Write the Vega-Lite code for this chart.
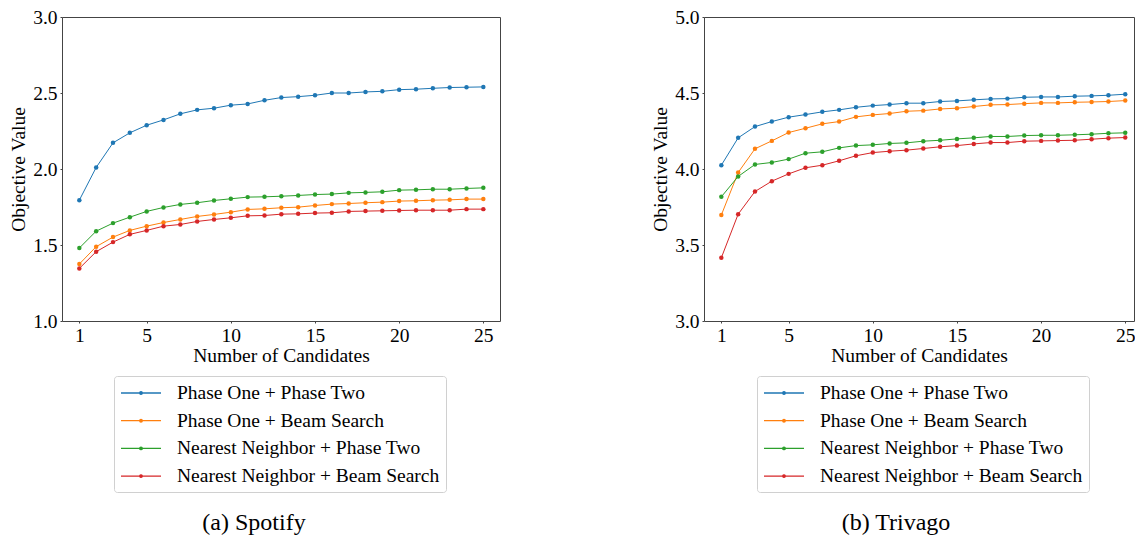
{
  "$schema": "https://vega.github.io/schema/vega-lite/v6.json",
  "padding": {"left": 8, "top": 6, "right": 0, "bottom": 0},
  "background": "white",
  "spacing": 149,
  "datasets": {
    "spotify": [
      {"n":1,"method":"Phase One + Phase Two","value":1.795},{"n":2,"method":"Phase One + Phase Two","value":2.010},{"n":3,"method":"Phase One + Phase Two","value":2.172},{"n":4,"method":"Phase One + Phase Two","value":2.238},{"n":5,"method":"Phase One + Phase Two","value":2.288},{"n":6,"method":"Phase One + Phase Two","value":2.323},{"n":7,"method":"Phase One + Phase Two","value":2.363},{"n":8,"method":"Phase One + Phase Two","value":2.389},{"n":9,"method":"Phase One + Phase Two","value":2.400},{"n":10,"method":"Phase One + Phase Two","value":2.420},{"n":11,"method":"Phase One + Phase Two","value":2.428},{"n":12,"method":"Phase One + Phase Two","value":2.452},{"n":13,"method":"Phase One + Phase Two","value":2.470},{"n":14,"method":"Phase One + Phase Two","value":2.476},{"n":15,"method":"Phase One + Phase Two","value":2.485},{"n":16,"method":"Phase One + Phase Two","value":2.500},{"n":17,"method":"Phase One + Phase Two","value":2.500},{"n":18,"method":"Phase One + Phase Two","value":2.507},{"n":19,"method":"Phase One + Phase Two","value":2.511},{"n":20,"method":"Phase One + Phase Two","value":2.522},{"n":21,"method":"Phase One + Phase Two","value":2.525},{"n":22,"method":"Phase One + Phase Two","value":2.531},{"n":23,"method":"Phase One + Phase Two","value":2.536},{"n":24,"method":"Phase One + Phase Two","value":2.538},{"n":25,"method":"Phase One + Phase Two","value":2.540},
      {"n":1,"method":"Phase One + Beam Search","value":1.375},{"n":2,"method":"Phase One + Beam Search","value":1.489},{"n":3,"method":"Phase One + Beam Search","value":1.552},{"n":4,"method":"Phase One + Beam Search","value":1.596},{"n":5,"method":"Phase One + Beam Search","value":1.624},{"n":6,"method":"Phase One + Beam Search","value":1.648},{"n":7,"method":"Phase One + Beam Search","value":1.668},{"n":8,"method":"Phase One + Beam Search","value":1.688},{"n":9,"method":"Phase One + Beam Search","value":1.701},{"n":10,"method":"Phase One + Beam Search","value":1.716},{"n":11,"method":"Phase One + Beam Search","value":1.734},{"n":12,"method":"Phase One + Beam Search","value":1.738},{"n":13,"method":"Phase One + Beam Search","value":1.745},{"n":14,"method":"Phase One + Beam Search","value":1.749},{"n":15,"method":"Phase One + Beam Search","value":1.760},{"n":16,"method":"Phase One + Beam Search","value":1.769},{"n":17,"method":"Phase One + Beam Search","value":1.773},{"n":18,"method":"Phase One + Beam Search","value":1.778},{"n":19,"method":"Phase One + Beam Search","value":1.782},{"n":20,"method":"Phase One + Beam Search","value":1.789},{"n":21,"method":"Phase One + Beam Search","value":1.791},{"n":22,"method":"Phase One + Beam Search","value":1.795},{"n":23,"method":"Phase One + Beam Search","value":1.797},{"n":24,"method":"Phase One + Beam Search","value":1.802},{"n":25,"method":"Phase One + Beam Search","value":1.802},
      {"n":1,"method":"Nearest Neighbor + Phase Two","value":1.480},{"n":2,"method":"Nearest Neighbor + Phase Two","value":1.591},{"n":3,"method":"Nearest Neighbor + Phase Two","value":1.644},{"n":4,"method":"Nearest Neighbor + Phase Two","value":1.683},{"n":5,"method":"Nearest Neighbor + Phase Two","value":1.721},{"n":6,"method":"Nearest Neighbor + Phase Two","value":1.747},{"n":7,"method":"Nearest Neighbor + Phase Two","value":1.767},{"n":8,"method":"Nearest Neighbor + Phase Two","value":1.778},{"n":9,"method":"Nearest Neighbor + Phase Two","value":1.793},{"n":10,"method":"Nearest Neighbor + Phase Two","value":1.804},{"n":11,"method":"Nearest Neighbor + Phase Two","value":1.815},{"n":12,"method":"Nearest Neighbor + Phase Two","value":1.817},{"n":13,"method":"Nearest Neighbor + Phase Two","value":1.821},{"n":14,"method":"Nearest Neighbor + Phase Two","value":1.826},{"n":15,"method":"Nearest Neighbor + Phase Two","value":1.832},{"n":16,"method":"Nearest Neighbor + Phase Two","value":1.835},{"n":17,"method":"Nearest Neighbor + Phase Two","value":1.843},{"n":18,"method":"Nearest Neighbor + Phase Two","value":1.846},{"n":19,"method":"Nearest Neighbor + Phase Two","value":1.850},{"n":20,"method":"Nearest Neighbor + Phase Two","value":1.861},{"n":21,"method":"Nearest Neighbor + Phase Two","value":1.863},{"n":22,"method":"Nearest Neighbor + Phase Two","value":1.867},{"n":23,"method":"Nearest Neighbor + Phase Two","value":1.867},{"n":24,"method":"Nearest Neighbor + Phase Two","value":1.872},{"n":25,"method":"Nearest Neighbor + Phase Two","value":1.876},
      {"n":1,"method":"Nearest Neighbor + Beam Search","value":1.346},{"n":2,"method":"Nearest Neighbor + Beam Search","value":1.456},{"n":3,"method":"Nearest Neighbor + Beam Search","value":1.519},{"n":4,"method":"Nearest Neighbor + Beam Search","value":1.570},{"n":5,"method":"Nearest Neighbor + Beam Search","value":1.596},{"n":6,"method":"Nearest Neighbor + Beam Search","value":1.624},{"n":7,"method":"Nearest Neighbor + Beam Search","value":1.635},{"n":8,"method":"Nearest Neighbor + Beam Search","value":1.655},{"n":9,"method":"Nearest Neighbor + Beam Search","value":1.668},{"n":10,"method":"Nearest Neighbor + Beam Search","value":1.679},{"n":11,"method":"Nearest Neighbor + Beam Search","value":1.692},{"n":12,"method":"Nearest Neighbor + Beam Search","value":1.694},{"n":13,"method":"Nearest Neighbor + Beam Search","value":1.703},{"n":14,"method":"Nearest Neighbor + Beam Search","value":1.705},{"n":15,"method":"Nearest Neighbor + Beam Search","value":1.710},{"n":16,"method":"Nearest Neighbor + Beam Search","value":1.712},{"n":17,"method":"Nearest Neighbor + Beam Search","value":1.721},{"n":18,"method":"Nearest Neighbor + Beam Search","value":1.723},{"n":19,"method":"Nearest Neighbor + Beam Search","value":1.725},{"n":20,"method":"Nearest Neighbor + Beam Search","value":1.727},{"n":21,"method":"Nearest Neighbor + Beam Search","value":1.729},{"n":22,"method":"Nearest Neighbor + Beam Search","value":1.729},{"n":23,"method":"Nearest Neighbor + Beam Search","value":1.729},{"n":24,"method":"Nearest Neighbor + Beam Search","value":1.736},{"n":25,"method":"Nearest Neighbor + Beam Search","value":1.736}
    ],
    "trivago": [
      {"n":1,"method":"Phase One + Phase Two","value":4.025},{"n":2,"method":"Phase One + Phase Two","value":4.205},{"n":3,"method":"Phase One + Phase Two","value":4.279},{"n":4,"method":"Phase One + Phase Two","value":4.312},{"n":5,"method":"Phase One + Phase Two","value":4.341},{"n":6,"method":"Phase One + Phase Two","value":4.358},{"n":7,"method":"Phase One + Phase Two","value":4.376},{"n":8,"method":"Phase One + Phase Two","value":4.389},{"n":9,"method":"Phase One + Phase Two","value":4.406},{"n":10,"method":"Phase One + Phase Two","value":4.417},{"n":11,"method":"Phase One + Phase Two","value":4.424},{"n":12,"method":"Phase One + Phase Two","value":4.433},{"n":13,"method":"Phase One + Phase Two","value":4.433},{"n":14,"method":"Phase One + Phase Two","value":4.444},{"n":15,"method":"Phase One + Phase Two","value":4.448},{"n":16,"method":"Phase One + Phase Two","value":4.455},{"n":17,"method":"Phase One + Phase Two","value":4.461},{"n":18,"method":"Phase One + Phase Two","value":4.463},{"n":19,"method":"Phase One + Phase Two","value":4.472},{"n":20,"method":"Phase One + Phase Two","value":4.474},{"n":21,"method":"Phase One + Phase Two","value":4.474},{"n":22,"method":"Phase One + Phase Two","value":4.479},{"n":23,"method":"Phase One + Phase Two","value":4.481},{"n":24,"method":"Phase One + Phase Two","value":4.485},{"n":25,"method":"Phase One + Phase Two","value":4.492},
      {"n":1,"method":"Phase One + Beam Search","value":3.697},{"n":2,"method":"Phase One + Beam Search","value":3.977},{"n":3,"method":"Phase One + Beam Search","value":4.133},{"n":4,"method":"Phase One + Beam Search","value":4.185},{"n":5,"method":"Phase One + Beam Search","value":4.240},{"n":6,"method":"Phase One + Beam Search","value":4.268},{"n":7,"method":"Phase One + Beam Search","value":4.297},{"n":8,"method":"Phase One + Beam Search","value":4.312},{"n":9,"method":"Phase One + Beam Search","value":4.343},{"n":10,"method":"Phase One + Beam Search","value":4.356},{"n":11,"method":"Phase One + Beam Search","value":4.365},{"n":12,"method":"Phase One + Beam Search","value":4.380},{"n":13,"method":"Phase One + Beam Search","value":4.384},{"n":14,"method":"Phase One + Beam Search","value":4.395},{"n":15,"method":"Phase One + Beam Search","value":4.400},{"n":16,"method":"Phase One + Beam Search","value":4.411},{"n":17,"method":"Phase One + Beam Search","value":4.422},{"n":18,"method":"Phase One + Beam Search","value":4.424},{"n":19,"method":"Phase One + Beam Search","value":4.430},{"n":20,"method":"Phase One + Beam Search","value":4.435},{"n":21,"method":"Phase One + Beam Search","value":4.435},{"n":22,"method":"Phase One + Beam Search","value":4.439},{"n":23,"method":"Phase One + Beam Search","value":4.441},{"n":24,"method":"Phase One + Beam Search","value":4.444},{"n":25,"method":"Phase One + Beam Search","value":4.450},
      {"n":1,"method":"Nearest Neighbor + Phase Two","value":3.817},{"n":2,"method":"Nearest Neighbor + Phase Two","value":3.951},{"n":3,"method":"Nearest Neighbor + Phase Two","value":4.030},{"n":4,"method":"Nearest Neighbor + Phase Two","value":4.043},{"n":5,"method":"Nearest Neighbor + Phase Two","value":4.065},{"n":6,"method":"Nearest Neighbor + Phase Two","value":4.104},{"n":7,"method":"Nearest Neighbor + Phase Two","value":4.113},{"n":8,"method":"Nearest Neighbor + Phase Two","value":4.139},{"n":9,"method":"Nearest Neighbor + Phase Two","value":4.154},{"n":10,"method":"Nearest Neighbor + Phase Two","value":4.159},{"n":11,"method":"Nearest Neighbor + Phase Two","value":4.168},{"n":12,"method":"Nearest Neighbor + Phase Two","value":4.172},{"n":13,"method":"Nearest Neighbor + Phase Two","value":4.183},{"n":14,"method":"Nearest Neighbor + Phase Two","value":4.189},{"n":15,"method":"Nearest Neighbor + Phase Two","value":4.198},{"n":16,"method":"Nearest Neighbor + Phase Two","value":4.205},{"n":17,"method":"Nearest Neighbor + Phase Two","value":4.214},{"n":18,"method":"Nearest Neighbor + Phase Two","value":4.214},{"n":19,"method":"Nearest Neighbor + Phase Two","value":4.220},{"n":20,"method":"Nearest Neighbor + Phase Two","value":4.222},{"n":21,"method":"Nearest Neighbor + Phase Two","value":4.222},{"n":22,"method":"Nearest Neighbor + Phase Two","value":4.225},{"n":23,"method":"Nearest Neighbor + Phase Two","value":4.229},{"n":24,"method":"Nearest Neighbor + Phase Two","value":4.235},{"n":25,"method":"Nearest Neighbor + Phase Two","value":4.238},
      {"n":1,"method":"Nearest Neighbor + Beam Search","value":3.416},{"n":2,"method":"Nearest Neighbor + Beam Search","value":3.703},{"n":3,"method":"Nearest Neighbor + Beam Search","value":3.852},{"n":4,"method":"Nearest Neighbor + Beam Search","value":3.920},{"n":5,"method":"Nearest Neighbor + Beam Search","value":3.968},{"n":6,"method":"Nearest Neighbor + Beam Search","value":4.008},{"n":7,"method":"Nearest Neighbor + Beam Search","value":4.025},{"n":8,"method":"Nearest Neighbor + Beam Search","value":4.054},{"n":9,"method":"Nearest Neighbor + Beam Search","value":4.087},{"n":10,"method":"Nearest Neighbor + Beam Search","value":4.108},{"n":11,"method":"Nearest Neighbor + Beam Search","value":4.117},{"n":12,"method":"Nearest Neighbor + Beam Search","value":4.124},{"n":13,"method":"Nearest Neighbor + Beam Search","value":4.135},{"n":14,"method":"Nearest Neighbor + Beam Search","value":4.146},{"n":15,"method":"Nearest Neighbor + Beam Search","value":4.154},{"n":16,"method":"Nearest Neighbor + Beam Search","value":4.165},{"n":17,"method":"Nearest Neighbor + Beam Search","value":4.174},{"n":18,"method":"Nearest Neighbor + Beam Search","value":4.174},{"n":19,"method":"Nearest Neighbor + Beam Search","value":4.183},{"n":20,"method":"Nearest Neighbor + Beam Search","value":4.185},{"n":21,"method":"Nearest Neighbor + Beam Search","value":4.187},{"n":22,"method":"Nearest Neighbor + Beam Search","value":4.189},{"n":23,"method":"Nearest Neighbor + Beam Search","value":4.196},{"n":24,"method":"Nearest Neighbor + Beam Search","value":4.203},{"n":25,"method":"Nearest Neighbor + Beam Search","value":4.207}
    ]
  },
  "resolve": {"scale": {"x": "independent", "y": "independent", "color": "independent"}, "legend": {"color": "independent"}},
  "hconcat": [
    {
      "width": 438,
      "height": 304,
      "data": {"name": "spotify"},
      "title": {"text": "(a) Spotify", "orient": "bottom", "anchor": "middle", "frame": "group", "dx": -27, "offset": 18},
      "encoding": {
        "x": {"field": "n", "type": "quantitative", "title": "Number of Candidates",
              "scale": {"domain": [-0.03, 25.99], "nice": false, "zero": false},
              "axis": {"values": [1, 5, 10, 15, 20, 25], "format": "d"}},
        "y": {"field": "value", "type": "quantitative", "title": "Objective Value",
              "scale": {"domain": [1, 3], "nice": false, "zero": false},
              "axis": {"values": [1, 1.5, 2, 2.5, 3], "format": ".1f"}},
        "color": {"field": "method", "type": "nominal",
                  "scale": {"domain": ["Phase One + Phase Two", "Phase One + Beam Search", "Nearest Neighbor + Phase Two", "Nearest Neighbor + Beam Search"],
                            "range": ["#1f77b4", "#ff7f0e", "#2ca02c", "#d62728"]},
                  "legend": {"orient": "none", "legendX": 52, "legendY": 359}}
      },
      "layer": [
        {"mark": {"type": "line", "strokeWidth": 1}},
        {"mark": {"type": "circle", "size": 20, "opacity": 1}}
      ]
    },
    {
      "width": 430,
      "height": 304,
      "data": {"name": "trivago"},
      "title": {"text": "(b) Trivago", "orient": "bottom", "anchor": "middle", "frame": "group", "dx": -23, "offset": 18},
      "encoding": {
        "x": {"field": "n", "type": "quantitative", "title": "Number of Candidates",
              "scale": {"domain": [-0.03, 25.52], "nice": false, "zero": false},
              "axis": {"values": [1, 5, 10, 15, 20, 25], "format": "d"}},
        "y": {"field": "value", "type": "quantitative", "title": "Objective Value",
              "scale": {"domain": [3, 5], "nice": false, "zero": false},
              "axis": {"values": [3, 3.5, 4, 4.5, 5], "format": ".1f"}},
        "color": {"field": "method", "type": "nominal",
                  "scale": {"domain": ["Phase One + Phase Two", "Phase One + Beam Search", "Nearest Neighbor + Phase Two", "Nearest Neighbor + Beam Search"],
                            "range": ["#1f77b4", "#ff7f0e", "#2ca02c", "#d62728"]},
                  "legend": {"orient": "none", "legendX": 53, "legendY": 359}}
      },
      "layer": [
        {"mark": {"type": "line", "strokeWidth": 1}},
        {"mark": {"type": "circle", "size": 20, "opacity": 1}}
      ]
    }
  ],
  "config": {
    "font": "Times New Roman",
    "view": {"stroke": "#444", "strokeWidth": 1},
    "axis": {
      "grid": false,
      "domain": false,
      "tickColor": "#444",
      "tickSize": 2,
      "labelFont": "Times New Roman",
      "labelFontSize": 19.5,
      "labelColor": "black",
      "labelPadding": 3,
      "titleFont": "Times New Roman",
      "titleFontSize": 19.5,
      "titleFontWeight": "normal",
      "titleColor": "black"
    },
    "axisX": {"titlePadding": 2, "labelFlush": false},
    "axisY": {"titlePadding": 4},
    "legend": {
      "title": null,
      "direction": "vertical",
      "labelFont": "Times New Roman",
      "labelFontSize": 19.5,
      "labelColor": "black",
      "labelLimit": 400,
      "labelOffset": 25,
      "symbolOffset": 10,
      "symbolType": "M-2,0H2M0.13,0A0.13,0.13,0,1,1,-0.13,0A0.13,0.13,0,1,1,0.13,0",
      "symbolSize": 400,
      "symbolStrokeWidth": 1.3,
      "rowPadding": 6.7,
      "padding": 6,
      "fillColor": "white",
      "strokeColor": "#d0d0d0",
      "cornerRadius": 3
    },
    "title": {
      "font": "Times New Roman",
      "fontSize": 24,
      "fontWeight": "normal",
      "color": "black"
    }
  }
}
